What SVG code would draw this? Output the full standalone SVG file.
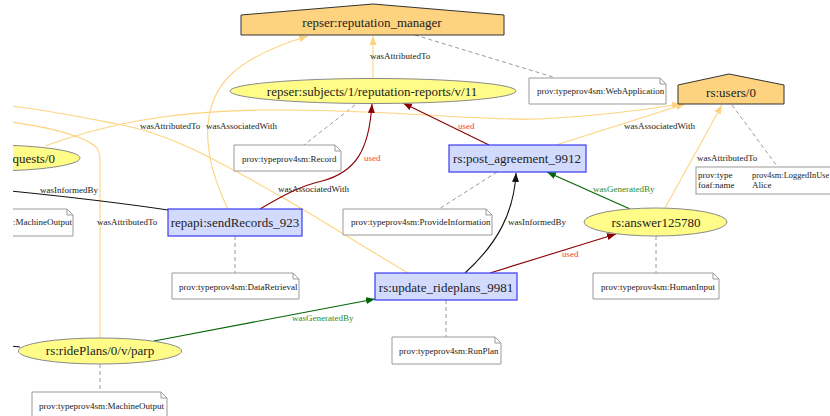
<svg xmlns="http://www.w3.org/2000/svg" width="830" height="416" viewBox="0 0 830 416">
<style>
  text { font-family: "Liberation Serif", "Times New Roman", serif; fill: #222; }
  .nl { font-size: 13px; text-anchor: middle; dominant-baseline: central; }
  .el { font-size: 9px; dominant-baseline: central; }
  .nt { font-size: 9px; dominant-baseline: central; }
  .used { fill: #ff3b3b; }
  .gen { fill: #2e8b2e; }
  .entity { fill: #fffc87; stroke: #8a8a8a; stroke-width: 1; }
  .activity { fill: #d2dafe; stroke: #3a3af0; stroke-width: 1.2; }
  .agent { fill: #fed37f; stroke: #333; stroke-width: 1; }
  .note { fill: #fff; stroke: #9a9a9a; stroke-width: 1; }
  .fold { fill: none; stroke: #9a9a9a; stroke-width: 1; }
  .edge { fill: none; stroke-width: 1.1; }
  .attr { stroke: #fed37f; }
  .usd { stroke: #8b0000; }
  .wgb { stroke: #006400; }
  .wib { stroke: #111; }
  .ann { fill: none; stroke: #9a9a9a; stroke-width: 1; stroke-dasharray: 4 3; }
</style>
<defs>
  <clipPath id="view"><rect x="13" y="0" width="817" height="416"/></clipPath>
  <marker id="aOr" markerUnits="userSpaceOnUse" markerWidth="10" markerHeight="8" refX="9" refY="3.5" orient="auto"><path d="M0,0 L9,3.5 L0,7 z" fill="#fed37f"/></marker>
  <marker id="aRd" markerUnits="userSpaceOnUse" markerWidth="10" markerHeight="8" refX="9" refY="3.5" orient="auto"><path d="M0,0 L9,3.5 L0,7 z" fill="#8b0000"/></marker>
  <marker id="aGn" markerUnits="userSpaceOnUse" markerWidth="10" markerHeight="8" refX="9" refY="3.5" orient="auto"><path d="M0,0 L9,3.5 L0,7 z" fill="#006400"/></marker>
  <marker id="aBk" markerUnits="userSpaceOnUse" markerWidth="10" markerHeight="8" refX="9" refY="3.5" orient="auto"><path d="M0,0 L9,3.5 L0,7 z" fill="#111"/></marker>
</defs>
<rect width="830" height="416" fill="#fff"/>
<g clip-path="url(#view)">
  <!-- edges and their labels -->
  <g id="connectors">
    <!-- annotation links -->
    <path class="ann" d="M415,35 L553,77"/>
    <path class="ann" d="M732,105 L777,166"/>
    <path class="ann" d="M355,105 L304,145"/>
    <path class="ann" d="M497,172 L439,209"/>
    <path class="ann" d="M235,236 L235,273"/>
    <path class="ann" d="M446,300 L446,337"/>
    <path class="ann" d="M656,236 L656,273"/>
    <path class="ann" d="M100,364 L100,392"/>
    <!-- attribution / association -->
    <path class="edge attr" d="M373,78 L373,36" marker-end="url(#aOr)"/>
    <path class="edge attr" d="M228,209 C214,180 206,150 208,125 C211,85 235,58 308,36" marker-end="url(#aOr)"/>
    <path class="edge attr" d="M45,146 C100,126 160,112 260,110 C400,109 470,121 540,119 C600,116 650,109 681,104" marker-end="url(#aOr)"/>
    <path class="edge attr" d="M556,145 L685,104" marker-end="url(#aOr)"/>
    <path class="edge attr" d="M665,208 L722,105" marker-end="url(#aOr)"/>
    <path class="edge attr" d="M408,273 C362,246 322,220 280,196 C222,163 170,133 117,124 C80,117 40,109 10,106"/>
    <path class="edge attr" d="M100,338 L100,160 C100,148 95,145 85,140 C65,131 40,126 10,122"/>
    <!-- used -->
    <path class="edge usd" d="M489,145 L403,103" marker-end="url(#aRd)"/>
    <path class="edge usd" d="M260,209 C282,196 300,186 322,181 C356,172 369,150 372,104" marker-end="url(#aRd)"/>
    <path class="edge usd" d="M490,273 L616,234" marker-end="url(#aRd)"/>
    <!-- generation -->
    <path class="edge wgb" d="M630,209 L547,172" marker-end="url(#aGn)"/>
    <path class="edge wgb" d="M154,341 L375,299" marker-end="url(#aGn)"/>
    <!-- communication -->
    <path class="edge wib" d="M465,273 C498,243 514,212 516,173" marker-end="url(#aBk)"/>
    <path class="edge wib" d="M10,191 C60,196 120,203 168,210"/>
    <path class="edge wib" d="M10,346 L20,347"/>
    <!-- labels -->
    <text class="el" x="370" y="56">wasAttributedTo</text>
    <text class="el" x="140" y="126">wasAttributedTo</text>
    <text class="el" x="206" y="126">wasAssociatedWith</text>
    <text class="el used" x="458" y="126">used</text>
    <text class="el used" x="364" y="158">used</text>
    <text class="el" x="278" y="189">wasAssociatedWith</text>
    <text class="el" x="40" y="190">wasInformedBy</text>
    <text class="el" x="97" y="222">wasAttributedTo</text>
    <text class="el" x="508" y="222">wasInformedBy</text>
    <text class="el gen" x="593" y="189">wasGeneratedBy</text>
    <text class="el" x="624" y="126">wasAssociatedWith</text>
    <text class="el" x="697" y="158">wasAttributedTo</text>
    <text class="el used" x="562" y="254">used</text>
    <text class="el gen" x="292" y="318">wasGeneratedBy</text>
  </g>

  <!-- agents -->
  <g id="reputation_manager">
    <polygon class="agent" points="241,35 241,15 373,4 504,15 504,35"/>
    <text class="nl" x="372" y="22">repser:reputation_manager</text>
  </g>
  <g id="users_0">
    <polygon class="agent" points="678,104 678,85 729,74 784,85 784,104"/>
    <text class="nl" x="731" y="92">rs:users/0</text>
  </g>

  <!-- entities -->
  <g id="reputation_report">
    <ellipse class="entity" cx="373" cy="91" rx="143" ry="12.5"/>
    <text class="nl" x="372" y="91">repser:subjects/1/reputation-reports/v/11</text>
  </g>
  <g id="requests_0">
    <ellipse class="entity" cx="-10" cy="158" rx="90" ry="13"/>
    <text class="nl" x="55" y="158" style="text-anchor:end">quests/0</text>
  </g>
  <g id="answer125780">
    <ellipse class="entity" cx="655.5" cy="222" rx="71.5" ry="14"/>
    <text class="nl" x="656" y="222">rs:answer125780</text>
  </g>
  <g id="rideplans_parp">
    <ellipse class="entity" cx="100" cy="351" rx="81.5" ry="13"/>
    <text class="nl" x="100" y="350">rs:ridePlans/0/v/parp</text>
  </g>

  <!-- activities -->
  <g id="sendRecords_923">
    <rect class="activity" x="168" y="209" width="134" height="27"/>
    <text class="nl" x="235" y="222">repapi:sendRecords_923</text>
  </g>
  <g id="post_agreement_9912">
    <rect class="activity" x="449" y="145" width="137" height="27"/>
    <text class="nl" x="517" y="158">rs:post_agreement_9912</text>
  </g>
  <g id="update_rideplans_9981">
    <rect class="activity" x="375" y="273" width="142" height="27"/>
    <text class="nl" x="446" y="287">rs:update_rideplans_9981</text>
  </g>

  <!-- attribute notes -->
  <g id="note_webapp">
    <polygon class="note" points="529,78 660,78 666,84 666,104 529,104"/>
    <polyline class="fold" points="660,78 660,84 666,84"/>
    <text class="nt" x="537" y="91">prov:typeprov4sm:WebApplication</text>
  </g>
  <g id="note_record">
    <polygon class="note" points="234,145 335,145 341,151 341,171 234,171"/>
    <polyline class="fold" points="335,145 335,151 341,151"/>
    <text class="nt" x="242" y="159">prov:typeprov4sm:Record</text>
  </g>
  <g id="note_provide">
    <polygon class="note" points="343,209 486,209 492,215 492,235 343,235"/>
    <polyline class="fold" points="486,209 486,215 492,215"/>
    <text class="nt" x="351" y="222">prov:typeprov4sm:ProvideInformation</text>
  </g>
  <g id="note_machine_left">
    <polygon class="note" points="0,209 67,209 73,215 73,236 0,236"/>
    <polyline class="fold" points="67,209 67,215 73,215"/>
    <text class="nt" x="72" y="222" style="text-anchor:end">:MachineOutput</text>
  </g>
  <g id="note_retrieval">
    <polygon class="note" points="172,273 293,273 299,279 299,299 172,299"/>
    <polyline class="fold" points="293,273 293,279 299,279"/>
    <text class="nt" x="179" y="287">prov:typeprov4sm:DataRetrieval</text>
  </g>
  <g id="note_runplan">
    <polygon class="note" points="392,337 495,337 501,343 501,364 392,364"/>
    <polyline class="fold" points="495,337 495,343 501,343"/>
    <text class="nt" x="399" y="351">prov:typeprov4sm:RunPlan</text>
  </g>
  <g id="note_human">
    <polygon class="note" points="593,273 713,273 719,279 719,299 593,299"/>
    <polyline class="fold" points="713,273 713,279 719,279"/>
    <text class="nt" x="601" y="287">prov:typeprov4sm:HumanInput</text>
  </g>
  <g id="note_machine_bottom">
    <polygon class="note" points="32,392 161,392 167,398 167,420 32,420"/>
    <polyline class="fold" points="161,392 161,398 167,398"/>
    <text class="nt" x="39" y="406">prov:typeprov4sm:MachineOutput</text>
  </g>
  <g id="note_user">
    <rect class="note" x="696" y="167" width="150" height="27"/>
    <text class="nt" x="698" y="175">prov:type</text>
    <text class="nt" x="752" y="175" style="font-size:8.4px">prov4sm:LoggedInUse</text>
    <text class="nt" x="698" y="185">foaf:name</text>
    <text class="nt" x="752" y="185">Alice</text>
  </g>
</g>
</svg>
